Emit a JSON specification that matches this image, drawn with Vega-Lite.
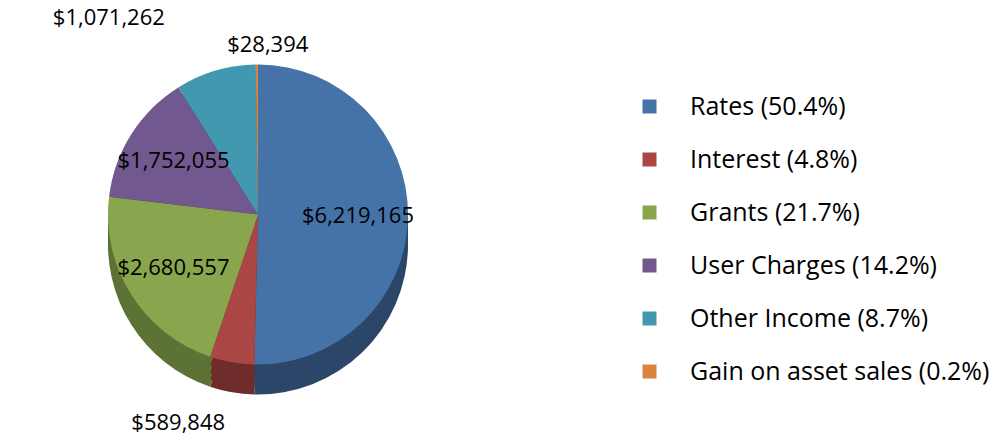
{
  "$schema": "https://vega.github.io/schema/vega-lite/v6.json",
  "width": 516,
  "height": 437,
  "padding": 0,
  "background": "white",
  "config": {"view": {"stroke": null}, "font": "Open Sans"},
  "data": {
    "values": [
      {"idx": 1, "category": "Rates", "legend": "Rates (50.4%)", "value": 6219165},
      {"idx": 2, "category": "Interest", "legend": "Interest (4.8%)", "value": 589848},
      {"idx": 3, "category": "Grants", "legend": "Grants (21.7%)", "value": 2680557},
      {"idx": 4, "category": "User Charges", "legend": "User Charges (14.2%)", "value": 1752055},
      {"idx": 5, "category": "Other Income", "legend": "Other Income (8.7%)", "value": 1071262},
      {"idx": 6, "category": "Gain on asset sales", "legend": "Gain on asset sales (0.2%)", "value": 28394}
    ]
  },
  "encoding": {
    "theta": {"field": "value", "type": "quantitative", "stack": true},
    "order": {"field": "idx", "type": "quantitative"}
  },
  "layer": [
    {
      "mark": {"type": "arc", "outerRadius": 150, "yOffset": 26},
      "encoding": {
        "color": {"field": "legend", "type": "nominal", "sort": null, "legend": null,
          "scale": {"domain": ["Rates (50.4%)", "Interest (4.8%)", "Grants (21.7%)", "User Charges (14.2%)", "Other Income (8.7%)", "Gain on asset sales (0.2%)"],
                    "range": ["#2c4669", "#6e2c2a", "#5d7335", "#4a3a60", "#2c6878", "#93582a"]}}
      }
    },
    {
      "mark": {"type": "arc", "outerRadius": 150, "yOffset": 19},
      "encoding": {
        "color": {"field": "legend", "type": "nominal", "sort": null, "legend": null,
          "scale": {"domain": ["Rates (50.4%)", "Interest (4.8%)", "Grants (21.7%)", "User Charges (14.2%)", "Other Income (8.7%)", "Gain on asset sales (0.2%)"],
                    "range": ["#2c4669", "#6e2c2a", "#5d7335", "#4a3a60", "#2c6878", "#93582a"]}}
      }
    },
    {
      "mark": {"type": "arc", "outerRadius": 150, "yOffset": 12},
      "encoding": {
        "color": {"field": "legend", "type": "nominal", "sort": null, "legend": null,
          "scale": {"domain": ["Rates (50.4%)", "Interest (4.8%)", "Grants (21.7%)", "User Charges (14.2%)", "Other Income (8.7%)", "Gain on asset sales (0.2%)"],
                    "range": ["#2c4669", "#6e2c2a", "#5d7335", "#4a3a60", "#2c6878", "#93582a"]}}
      }
    },
    {
      "mark": {"type": "arc", "outerRadius": 150, "yOffset": 5},
      "encoding": {
        "color": {"field": "legend", "type": "nominal", "sort": null, "legend": null,
          "scale": {"domain": ["Rates (50.4%)", "Interest (4.8%)", "Grants (21.7%)", "User Charges (14.2%)", "Other Income (8.7%)", "Gain on asset sales (0.2%)"],
                    "range": ["#2c4669", "#6e2c2a", "#5d7335", "#4a3a60", "#2c6878", "#93582a"]}}
      }
    },
    {
      "mark": {"type": "arc", "outerRadius": 150, "yOffset": -4},
      "encoding": {
        "color": {"field": "legend", "type": "nominal", "sort": null,
          "scale": {"domain": ["Rates (50.4%)", "Interest (4.8%)", "Grants (21.7%)", "User Charges (14.2%)", "Other Income (8.7%)", "Gain on asset sales (0.2%)"],
                    "range": ["#4572A7", "#AA4643", "#89A54E", "#71588F", "#4198AF", "#DB843D"]},
          "legend": {"title": null, "orient": "none", "legendX": 637, "legendY": 94, "symbolType": "square", "symbolSize": 196, "symbolStrokeWidth": 0, "labelFontSize": 25, "labelFont": "Open Sans", "labelColor": "black", "labelOffset": 28, "rowPadding": 27, "labelLimit": 400, "padding": 0}}
      }
    },
    {
      "mark": {"type": "text", "radius": 100, "yOffset": -4, "fontSize": 22, "font": "Open Sans", "color": "black"},
      "encoding": {
        "detail": {"field": "category", "type": "nominal"},
        "text": {"condition": {"test": "datum.category == 'Rates' || datum.category == 'Grants' || datum.category == 'User Charges'", "field": "value", "type": "quantitative", "format": "$,d"}, "value": ""}
      }
    },
    {
      "mark": {"type": "text", "radius": 200, "yOffset": -4, "dx": -45, "dy": 12, "fontSize": 22, "font": "Open Sans", "color": "black"},
      "encoding": {
        "detail": {"field": "category", "type": "nominal"},
        "text": {"condition": {"test": "datum.category == 'Interest'", "field": "value", "type": "quantitative", "format": "$,d"}, "value": ""}
      }
    },
    {
      "mark": {"type": "text", "radius": 170, "yOffset": -4, "dx": -101, "dy": -33, "fontSize": 22, "font": "Open Sans", "color": "black"},
      "encoding": {
        "detail": {"field": "category", "type": "nominal"},
        "text": {"condition": {"test": "datum.category == 'Other Income'", "field": "value", "type": "quantitative", "format": "$,d"}, "value": ""}
      }
    },
    {
      "mark": {"type": "text", "radius": 170, "yOffset": -4, "dx": 11, "fontSize": 22, "font": "Open Sans", "color": "black"},
      "encoding": {
        "detail": {"field": "category", "type": "nominal"},
        "text": {"condition": {"test": "datum.category == 'Gain on asset sales'", "field": "value", "type": "quantitative", "format": "$,d"}, "value": ""}
      }
    }
  ],
  "resolve": {"scale": {"color": "independent"}}
}
